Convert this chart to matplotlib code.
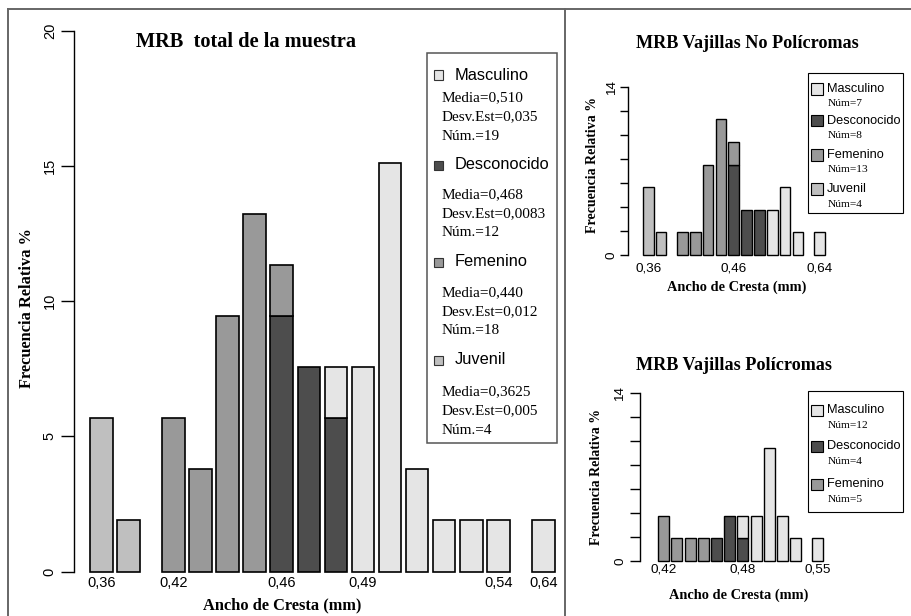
import matplotlib
matplotlib.use("Agg")
import matplotlib.pyplot as plt
from matplotlib.patches import Rectangle
from matplotlib.lines import Line2D

W, H = 911, 616
SERIF = "Liberation Serif"
SANS = "Liberation Sans"

COLORS = {
    "Masculino": "#e5e5e5",
    "Desconocido": "#4d4d4d",
    "Femenino": "#999999",
    "Juvenil": "#bfbfbf",
}
STACK_ORDER = ["Desconocido", "Femenino", "Masculino", "Juvenil"]

# all frequencies are relative to the whole sample
TOTAL_N = 53

# --- MRB total de la muestra (counts per bar)
total_masculino = [0, 0, 0, 0, 0, 0, 0, 0, 1, 4, 8, 2, 1, 1, 1, 1]
total_desconocido = [0, 0, 0, 0, 0, 0, 5, 4, 3, 0, 0, 0, 0, 0, 0, 0]
total_femenino = [0, 0, 3, 2, 5, 7, 1, 0, 0, 0, 0, 0, 0, 0, 0, 0]
total_juvenil = [3, 1, 0, 0, 0, 0, 0, 0, 0, 0, 0, 0, 0, 0, 0, 0]
total_tick_idx = [0, 2, 6, 9, 14, 15]
total_tick_lab = ["0,36", "0,42", "0,46", "0,49", "0,54", "0,64"]

legend_names = ["Masculino", "Desconocido", "Femenino", "Juvenil"]
total_media = ["0,510", "0,468", "0,440", "0,3625"]
total_desv = ["0,035", "0,0083", "0,012", "0,005"]
total_num = [19, 12, 18, 4]

# --- MRB Vajillas No Policromas
nopoli_masculino = [0, 0, 0, 0, 0, 0, 0, 0, 0, 2, 3, 1, 1]
nopoli_desconocido = [0, 0, 0, 0, 0, 0, 4, 2, 2, 0, 0, 0, 0]
nopoli_femenino = [0, 0, 1, 1, 4, 6, 1, 0, 0, 0, 0, 0, 0]
nopoli_juvenil = [3, 1, 0, 0, 0, 0, 0, 0, 0, 0, 0, 0, 0]
nopoli_tick_idx = [0, 6, 12]
nopoli_tick_lab = ["0,36", "0,46", "0,64"]
nopoli_names = ["Masculino", "Desconocido", "Femenino", "Juvenil"]
nopoli_num = [7, 8, 13, 4]

# --- MRB Vajillas Policromas
poli_masculino = [0, 0, 0, 0, 0, 0, 1, 2, 5, 2, 1, 1]
poli_desconocido = [0, 0, 0, 0, 1, 2, 1, 0, 0, 0, 0, 0]
poli_femenino = [2, 1, 1, 1, 0, 0, 0, 0, 0, 0, 0, 0]
poli_tick_idx = [0, 6, 11]
poli_tick_lab = ["0,42", "0,48", "0,55"]
poli_names = ["Masculino", "Desconocido", "Femenino"]
poli_num = [12, 4, 5]


def fx(px):
    return px / W


def fy(py):
    return 1 - py / H


def ftext(fig, x, y, s, **kw):
    kw.setdefault("va", "center")
    fig.text(fx(x), fy(y), s, **kw)


def bar_lefts(n, gaps):
    # R barplot style: width 1, space 0.2 (space 1 where the scale breaks)
    lefts = []
    x = 0.2
    for i in range(n):
        if i > 0:
            x += 1 + (1.0 if i in gaps else 0.2)
        lefts.append(x)
    return lefts


def draw_panel(fig, series, gaps, tick_idx, tick_lab, g, yticks, ylabels, lw,
               fs, tick_len, xpad, ypad):
    ax = fig.add_axes([fx(g["axis"]), fy(g["y0"]), fx(g["right"] - g["axis"]),
                       (g["y0"] - g["ytop"]) / H])
    n = len(next(iter(series.values())))
    lefts = bar_lefts(n, gaps)
    bottoms = [0.0] * n
    for name in STACK_ORDER:
        if name not in series:
            continue
        vals = [c * 100.0 / TOTAL_N for c in series[name]]
        idx = [i for i in range(n) if vals[i] > 0]
        ax.bar([lefts[i] for i in idx], [vals[i] for i in idx], width=1,
               bottom=[bottoms[i] for i in idx], align="edge",
               color=COLORS[name], edgecolor="black", linewidth=lw, clip_on=False)
        bottoms = [b + v for b, v in zip(bottoms, vals)]
    xl = 0.2 - (g["bar0"] - g["axis"]) / g["ppu"]
    xr = 0.2 + (g["right"] - g["bar0"]) / g["ppu"]
    ax.set_xlim(xl, xr)
    ax.set_ylim(0, yticks[-1])
    for s in ("top", "right", "bottom"):
        ax.spines[s].set_visible(False)
    ax.spines["left"].set_linewidth(1.0)
    ax.set_xticks([lefts[i] + 0.5 for i in tick_idx])
    ax.set_xticklabels(tick_lab, fontfamily=SANS, fontsize=fs)
    ax.tick_params(axis="x", length=0, pad=xpad)
    ax.set_yticks(yticks)
    ax.set_yticklabels(ylabels, fontfamily=SANS, fontsize=fs, rotation=90, va="center")
    ax.tick_params(axis="y", length=tick_len, width=1.0, pad=ypad)
    ax.patch.set_alpha(0)
    return ax


fig = plt.figure(figsize=(W / 100, H / 100), dpi=100)

# panel frame lines
frame_kw = dict(color="#666666", linewidth=1.4, transform=fig.transFigure)
fig.add_artist(Line2D([fx(8), 1], [fy(9), fy(9)], **frame_kw))
fig.add_artist(Line2D([fx(8), fx(8)], [fy(9), 0], **frame_kw))
fig.add_artist(Line2D([fx(565), fx(565)], [fy(9), 0], **frame_kw))

# ---------------- main panel
draw_panel(
    fig,
    {"Masculino": total_masculino, "Desconocido": total_desconocido,
     "Femenino": total_femenino, "Juvenil": total_juvenil},
    gaps=[2, 15], tick_idx=total_tick_idx, tick_lab=total_tick_lab,
    g=dict(axis=74, bar0=90, ppu=22.56, y0=571.5, ytop=30.5, right=562),
    yticks=[0, 5, 10, 15, 20], ylabels=["0", "5", "10", "15", "20"],
    lw=1.2, fs=10.5, tick_len=9.4, xpad=3.5, ypad=3,
)
ftext(fig, 245.5, 42, "MRB  total de la muestra", ha="center",
      fontfamily=SERIF, fontweight="bold", fontsize=14.7)
ftext(fig, 27, 308, "Frecuencia Relativa %", ha="center", rotation=90,
      fontfamily=SERIF, fontweight="bold", fontsize=11.8)
ftext(fig, 282.5, 605, "Ancho de Cresta (mm)", ha="center",
      fontfamily=SERIF, fontweight="bold", fontsize=11.8)

# main legend
fig.add_artist(Rectangle((fx(427), fy(443)), fx(557 - 427), (443 - 53) / H,
                         transform=fig.transFigure, facecolor="white",
                         edgecolor="#555555", linewidth=1.1))
name_y = [75, 165, 262, 360]
stat_y = [98, 195, 293, 392]
for i, name in enumerate(legend_names):
    fig.add_artist(Rectangle((fx(434), fy(name_y[i] + 4.5)), fx(9), 9 / H,
                             transform=fig.transFigure, facecolor=COLORS[name],
                             edgecolor="#333333", linewidth=0.8))
    ftext(fig, 455, name_y[i], name, fontfamily=SANS, fontsize=11.8)
    lines = ["Media=" + total_media[i], "Desv.Est=" + total_desv[i],
             "Núm.=" + str(total_num[i])]
    for k, s in enumerate(lines):
        ftext(fig, 442, stat_y[i] + 19 * k, s, fontfamily=SERIF, fontsize=11)

# ---------------- No Policromas
draw_panel(
    fig,
    {"Masculino": nopoli_masculino, "Desconocido": nopoli_desconocido,
     "Femenino": nopoli_femenino, "Juvenil": nopoli_juvenil},
    gaps=[2, 12], tick_idx=nopoli_tick_idx, tick_lab=nopoli_tick_lab,
    g=dict(axis=628, bar0=642.8, ppu=10.70, y0=255, ytop=87.3, right=840),
    yticks=list(range(0, 15, 2)), ylabels=["0", "", "", "", "", "", "", "14"],
    lw=1.0, fs=9.7, tick_len=6, xpad=5.5, ypad=1.5,
)
ftext(fig, 747, 43, "MRB Vajillas No Polícromas", ha="center",
      fontfamily=SERIF, fontweight="bold", fontsize=13.1)
ftext(fig, 593, 165, "Frecuencia Relativa %", ha="center", rotation=90,
      fontfamily=SERIF, fontweight="bold", fontsize=10)
ftext(fig, 737, 287, "Ancho de Cresta (mm)", ha="center",
      fontfamily=SERIF, fontweight="bold", fontsize=10.4)

fig.add_artist(Rectangle((fx(808), fy(213)), fx(903 - 808), (213 - 73) / H,
                         transform=fig.transFigure, facecolor="white",
                         edgecolor="black", linewidth=0.8))
np_name_y = [89, 121, 155, 189]
for i, name in enumerate(nopoli_names):
    fig.add_artist(Rectangle((fx(811), fy(np_name_y[i] + 5.5)), fx(12), 11 / H,
                             transform=fig.transFigure, facecolor=COLORS[name],
                             edgecolor="black", linewidth=0.8))
    ftext(fig, 827, np_name_y[i], name, fontfamily=SANS, fontsize=9.2)
    ftext(fig, 828, np_name_y[i] + 15, "Núm=" + str(nopoli_num[i]),
          fontfamily=SERIF, fontsize=8.2)

# ---------------- Policromas
draw_panel(
    fig,
    {"Masculino": poli_masculino, "Desconocido": poli_desconocido,
     "Femenino": poli_femenino},
    gaps=[11], tick_idx=poli_tick_idx, tick_lab=poli_tick_lab,
    g=dict(axis=640, bar0=658.3, ppu=10.98, y0=561, ytop=393.3, right=840),
    yticks=list(range(0, 15, 2)), ylabels=["0", "", "", "", "", "", "", "14"],
    lw=1.0, fs=9.7, tick_len=7, xpad=2, ypad=3,
)
ftext(fig, 734, 365, "MRB Vajillas Polícromas", ha="center",
      fontfamily=SERIF, fontweight="bold", fontsize=13.1)
ftext(fig, 596, 477, "Frecuencia Relativa %", ha="center", rotation=90,
      fontfamily=SERIF, fontweight="bold", fontsize=10)
ftext(fig, 739, 595, "Ancho de Cresta (mm)", ha="center",
      fontfamily=SERIF, fontweight="bold", fontsize=10.4)

fig.add_artist(Rectangle((fx(808), fy(512)), fx(903 - 808), (512 - 391) / H,
                         transform=fig.transFigure, facecolor="white",
                         edgecolor="black", linewidth=0.8))
p_name_y = [410, 446, 484]
for i, name in enumerate(poli_names):
    fig.add_artist(Rectangle((fx(811), fy(p_name_y[i] + 5.5)), fx(12), 11 / H,
                             transform=fig.transFigure, facecolor=COLORS[name],
                             edgecolor="black", linewidth=0.8))
    ftext(fig, 827, p_name_y[i], name, fontfamily=SANS, fontsize=9.2)
    ftext(fig, 828, p_name_y[i] + 15, "Núm=" + str(poli_num[i]),
          fontfamily=SERIF, fontsize=8.2)

fig.savefig("out.png", dpi=100)
